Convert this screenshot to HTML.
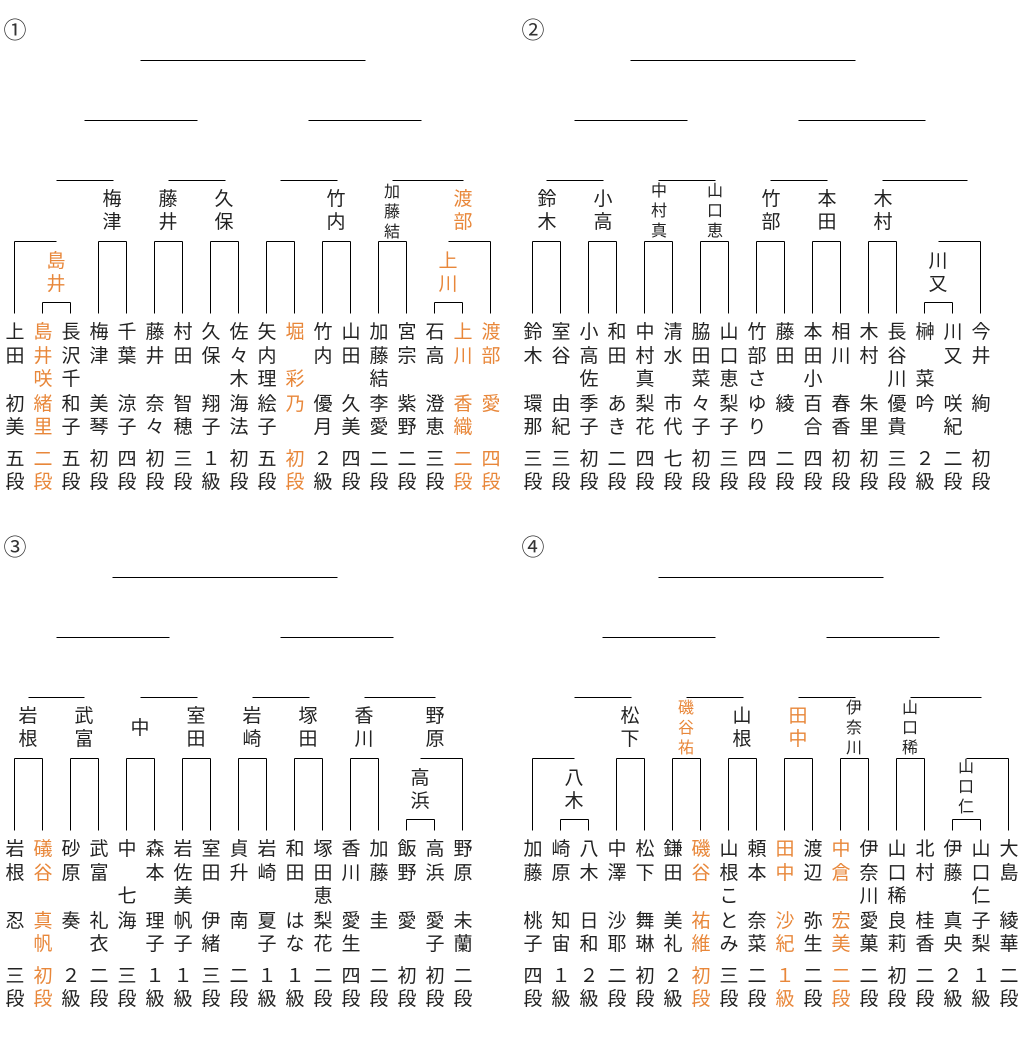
<!DOCTYPE html>
<html><head><meta charset="utf-8">
<style>
html,body{margin:0;padding:0;background:#fff;}
#c{position:relative;width:1023px;height:1047px;overflow:hidden;font-family:"Liberation Sans","Noto Sans CJK JP",sans-serif;color:#222;}
.ch{position:absolute;width:28px;text-align:center;font-size:19px;line-height:24px;height:24px;}
.sm{position:absolute;width:24px;text-align:center;font-size:16px;line-height:20px;height:20px;}
.num{position:absolute;width:30px;text-align:center;font-size:23px;line-height:26px;height:26px;color:#333;}
.o{color:#e8873a;}
svg{position:absolute;left:0;top:0;}
</style></head><body>
<div id="c"><svg id="s" width="1023" height="1047"></svg></div>
<script>
var C=document.getElementById('c'),S=document.getElementById('s'),L='';
function ln(x1,y1,x2,y2){L+='<line x1="'+(x1+.5)+'" y1="'+(y1+.5)+'" x2="'+(x2+.5)+'" y2="'+(y2+.5)+'" stroke="#000" stroke-width="1"/>';}
function ch(t,cx,cy,o,cls){var d=document.createElement('div');d.className=(cls||'ch')+(o?' o':'');d.textContent=t;
 var w=cls=='sm'?24:(cls=='num'?30:28),h=cls=='sm'?20:(cls=='num'?26:24);d.style.left=(cx-w/2)+'px';d.style.top=(cy-h/2)+'px';C.appendChild(d);}
function lab(s,cx,cy,o,small){var step=small?20:23;for(var i=0;i<s.length;i++)ch(s[i],cx,cy+i*step,o,small?'sm':null);}
var Q=[
 {x0:14,dy:0,type:1,n:'①',
  cols:['上田_初美','*島井咲緒里','長沢千和子','梅津_美琴','千葉_涼子','藤井_奈々','村田_智穂','久保_翔子','佐々木海法','矢内理絵子','*堀_彩乃_','竹内_優月','山田_久美','加藤結李愛','宮宗_紫野','石高_澄恵','*上川_香織','*渡部_愛_'],
  rk:['五段','二段','五段','初段','四段','初段','三段','１級','初段','五段','初段','２級','四段','二段','二段','三段','二段','四段'],
  r180:[[56,113],[168,225],[280,337],[392,463]],r120:[[84,197],[308,421]],r60:[140,365],
  labs:[['島井',56,262,1],['梅津',112,200],['藤井',168,200],['久保',224,200],['竹内',336,200],['加藤結',392,193,0,1],['渡部',463,200,1],['上川',448,262,1]]},
 {x0:532,dy:0,type:2,n:'②',
  cols:['鈴木_環那','室谷_由紀','小高佐季子','和田_あき','中村真梨花','清水_市代','脇田菜々子','山口恵梨子','竹部さゆり','藤田_綾_','本田小百合','相川_春香','木村_朱里','長谷川優貴','榊_菜吟_','川又_咲紀','今井_絢_'],
  rk:['三段','三段','初段','二段','四段','七段','初段','三段','四段','二段','四段','初段','初段','三段','２級','二段','初段'],
  r180:[[546,603],[658,715],[770,827],[882,967]],r120:[[574,687],[798,925]],r60:[630,855],
  labs:[['鈴木',547,200],['小高',603,200],['中村真',659,192,0,1],['山口恵',715,192,0,1],['竹部',771,200],['本田',827,200],['木村',883,200],['川又',938,262]]},
 {x0:14,dy:517,type:2,n:'③',
  cols:['岩根_忍_','*礒谷_真帆','砂原_奏_','武富_礼衣','中_七海_','森本_理子','岩佐美帆子','室田_伊緒','貞升_南_','岩崎_夏子','和田_はな','塚田恵梨花','香川_愛生','加藤_圭_','飯野_愛_','高浜_愛子','野原_未蘭'],
  rk:['三段','初段','２級','二段','三段','１級','１級','三段','二段','１級','１級','二段','四段','二段','初段','初段','二段'],
  r180:[[28,84],[140,197],[252,309],[364,435]],r120:[[56,169],[280,393]],r60:[112,337],
  labs:[['岩根',28,200],['武富',84,200],['中',140,212],['室田',196,200],['岩崎',252,200],['塚田',308,200],['香川',364,200],['野原',435,200],['高浜',420,262]]},
 {x0:532,dy:517,type:1,n:'④',
  cols:['加藤_桃子','崎原_知宙','八木_日和','中澤_沙耶','松下_舞琳','鎌田_美礼','*磯谷_祐維','山根ことみ','頼本_奈菜','*田中_沙紀','渡辺_弥生','*中倉_宏美','伊奈川愛菓','山口稀良莉','北村_桂香','伊藤_真央','山口仁子梨','大島_綾華'],
  rk:['四段','１級','２級','二段','初段','２級','初段','三段','二段','１級','二段','二段','二段','初段','二段','２級','１級','二段'],
  r180:[[574,631],[686,743],[798,855],[910,981]],r120:[[602,715],[826,939]],r60:[658,883],
  labs:[['八木',574,262],['松下',630,200],['磯谷祐',686,192,1,1],['山根',742,200],['田中',798,200,1],['伊奈川',854,192,0,1],['山口稀',910,192,0,1],['山口仁',966,251,0,1]]}
];
var rows=[333,357,380,405,428],rr=[460,483];
Q.forEach(function(q){
 var dy=q.dy,px=function(i){return q.x0+28*i;};
 ch(q.n,q.x0+1,30+dy,0,'num');
 q.cols.forEach(function(s,i){var o=s[0]=='*';if(o)s=s.slice(1);
  for(var k=0;k<5;k++)if(s[k]&&s[k]!='_')ch(s[k],px(i)+1,rows[k]+dy,o);
  var r=q.rk[i];ch(r[0],px(i)+1,rr[0]+dy,o);ch(r[1],px(i)+1,rr[1]+dy,o);});
 var n=q.cols.length;
 function pair(a){ln(px(a),241+dy,px(a+1),241+dy);ln(px(a),241+dy,px(a),313+dy);ln(px(a+1),241+dy,px(a+1),313+dy);}
 function small(a){ln(px(a),302+dy,px(a+1),302+dy);ln(px(a),302+dy,px(a),313+dy);ln(px(a+1),302+dy,px(a+1),313+dy);}
 var start=0;
 if(q.type==1){small(1);ln(px(0),241+dy,px(0)+42,241+dy);ln(px(0),241+dy,px(0),313+dy);start=3;}
 for(var a=start;a<n-3;a+=2)pair(a);
 small(n-3);ln(px(n-3)+14,241+dy,px(n-1),241+dy);ln(px(n-1),241+dy,px(n-1),313+dy);
 q.r180.forEach(function(r){ln(r[0],180+dy,r[1],180+dy);});
 q.r120.forEach(function(r){ln(r[0],120+dy,r[1],120+dy);});
 ln(q.r60[0],60+dy,q.r60[1],60+dy);
 q.labs.forEach(function(l){lab(l[0],l[1],l[2]+dy,l[3],l[4]);});
});
S.innerHTML=L;
</script>
</body></html>
